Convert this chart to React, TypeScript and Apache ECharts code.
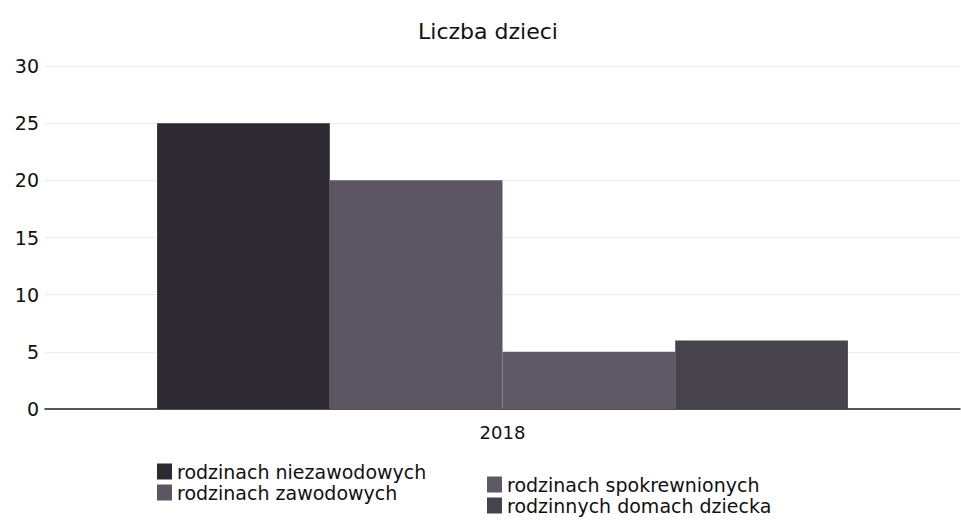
import React, { useEffect, useRef } from "react";
import * as echarts from "echarts";

const categories = ["2018"];
const seriesNames = [
  "rodzinach niezawodowych",
  "rodzinach zawodowych",
  "rodzinach spokrewnionych",
  "rodzinnych domach dziecka",
];
const seriesValues = [[25], [20], [5], [6]];
const seriesColors = ["#2e2a33", "#5b5661", "#5e5964", "#47434d"];
const yTicks = [0, 5, 10, 15, 20, 25, 30];

export default function App() {
  const ref = useRef<HTMLDivElement>(null);
  useEffect(() => {
    if (!ref.current) return;
    const chart = echarts.init(ref.current, undefined, { renderer: "svg" });
    const font = "'DejaVu Sans', Verdana, sans-serif";
    const legendText = { fontFamily: font, fontSize: 19, color: "#111", padding: [0, 0, 0, 0] };
    chart.setOption({
      animation: false,
      backgroundColor: "#ffffff",
      title: {
        text: "Liczba dzieci",
        left: 483,
        top: 15,
        textAlign: "center",
        textStyle: { fontFamily: font, fontSize: 22, fontWeight: "normal", color: "#111" },
      },
      legend: [
        {
          data: seriesNames.slice(0, 2),
          orient: "vertical",
          left: 152,
          top: 457,
          icon: "rect",
          itemWidth: 15,
          itemHeight: 16,
          itemGap: 2,
          textStyle: legendText,
        },
        {
          data: seriesNames.slice(2, 4),
          orient: "vertical",
          left: 482,
          top: 470,
          icon: "rect",
          itemWidth: 15,
          itemHeight: 16,
          itemGap: 2,
          textStyle: legendText,
        },
      ],
      grid: { left: 45, right: 1, top: 66, bottom: 113, containLabel: false },
      xAxis: {
        type: "category",
        data: categories,
        axisLine: { lineStyle: { color: "#222", width: 1.5 } },
        axisTick: { show: false },
        axisLabel: { fontFamily: font, fontSize: 18, color: "#111", margin: 14 },
      },
      yAxis: {
        type: "value",
        min: yTicks[0],
        max: yTicks[yTicks.length - 1],
        interval: 5,
        axisLine: { show: false },
        axisTick: { show: false },
        axisLabel: { fontFamily: font, fontSize: 19, color: "#111", margin: 6 },
        splitLine: { lineStyle: { color: "#ececec", width: 1 } },
      },
      series: seriesNames.map((name, i) => ({
        name,
        type: "bar",
        data: seriesValues[i],
        itemStyle: { color: seriesColors[i] },
        barGap: "0%",
        barCategoryGap: "24.5%",
      })),
    });
    return () => chart.dispose();
  }, []);
  return <div ref={ref} style={{ width: 961, height: 522, position: "absolute", left: 0, top: 0 }} />;
}
